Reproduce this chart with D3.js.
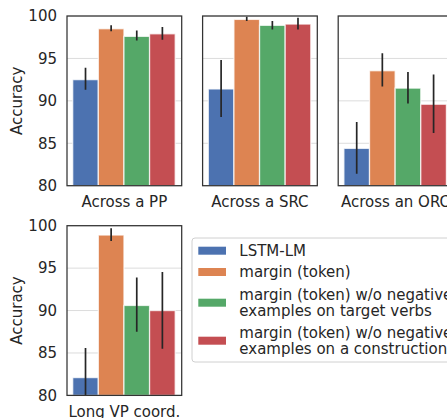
<!DOCTYPE html>
<html>
<head>
<meta charset="utf-8">
<script src="https://cdn.jsdelivr.net/npm/d3@7"></script>
<style>
  body { margin: 0; background: #fff; }
  text { font-family: "DejaVu Sans", sans-serif; fill: #262626; }
</style>
</head>
<body>
<svg id="chart" width="447" height="418"></svg>
<script>
// categories (one panel each) and series
var categories = ["Across a PP", "Across a SRC", "Across an ORC", "Long VP coord."];
var seriesNames = ["LSTM-LM", "margin (token)",
  "margin (token) w/o negative\nexamples on target verbs",
  "margin (token) w/o negative\nexamples on a construction"];
var colors = ["#4C72B0", "#DD8452", "#55A868", "#C44E52"];

// mean accuracy per category, and error bar bounds
var lstmLm      = [92.5, 91.4, 84.4, 82.1];
var lstmLmLo    = [91.3, 88.1, 81.4, 78.5];
var lstmLmHi    = [93.9, 94.8, 87.5, 85.6];
var margin      = [98.5, 99.6, 93.55, 98.9];
var marginLo    = [98.2, 99.4, 91.7, 98.2];
var marginHi    = [98.9, 99.9, 95.6, 99.7];
var noVerbs     = [97.6, 98.9, 91.5, 90.6];
var noVerbsLo   = [97.1, 98.4, 89.7, 87.5];
var noVerbsHi   = [98.3, 99.4, 93.4, 93.9];
var noConstr    = [97.9, 99.05, 89.6, 90.0];
var noConstrLo  = [97.2, 98.4, 86.2, 85.5];
var noConstrHi  = [98.7, 99.8, 93.1, 94.55];
var yTicks      = [80, 85, 90, 95, 100];

var means = [lstmLm, margin, noVerbs, noConstr],
    lows  = [lstmLmLo, marginLo, noVerbsLo, noConstrLo],
    highs = [lstmLmHi, marginHi, noVerbsHi, noConstrHi];

var svg = d3.select("#chart"),
    pw = 114.7, ph = 169.7,
    x0 = 67, y0 = 16, dx = 135.6, dy = 209.7;

var y = d3.scaleLinear().domain([80, 100]).range([ph, 0]);
var x = d3.scaleBand().domain(d3.range(seriesNames.length)).range([5.7, pw - 6.5]);

categories.forEach(function(cat, c) {
  var col = c % 3, row = Math.floor(c / 3);
  var g = svg.append("g").attr("transform", "translate(" + (x0 + col * dx) + "," + (y0 + row * dy) + ")");

  svg.append("clipPath").attr("id", "clip" + c)
    .append("rect").attr("width", pw).attr("height", ph);

  // grid
  g.selectAll("line.grid").data(yTicks).enter().append("line")
    .attr("class", "grid")
    .attr("x1", 0).attr("x2", pw)
    .attr("y1", function(d) { return y(d); }).attr("y2", function(d) { return y(d); })
    .attr("stroke", "#dcdcdc").attr("stroke-width", 1);

  var bars = g.append("g").attr("clip-path", "url(#clip" + c + ")");
  bars.selectAll("rect").data(d3.range(seriesNames.length)).enter().append("rect")
    .attr("x", function(s) { return x(s); })
    .attr("width", x.bandwidth())
    .attr("y", function(s) { return y(means[s][c]); })
    .attr("height", function(s) { return ph - y(means[s][c]); })
    .attr("fill", function(s) { return colors[s]; })
    .attr("stroke", "#fff").attr("stroke-opacity", 0.75).attr("stroke-width", 1.3);

  bars.selectAll("line.err").data(d3.range(seriesNames.length)).enter().append("line")
    .attr("class", "err")
    .attr("x1", function(s) { return x(s) + x.bandwidth() / 2; })
    .attr("x2", function(s) { return x(s) + x.bandwidth() / 2; })
    .attr("y1", function(s) { return y(lows[s][c]); })
    .attr("y2", function(s) { return y(highs[s][c]); })
    .attr("stroke", "#262626").attr("stroke-width", 1.7);

  // frame
  g.append("rect").attr("width", pw).attr("height", ph)
    .attr("fill", "none").attr("stroke", "#333").attr("stroke-width", 1.25);

  if (col === 0) {
    g.selectAll("text.ytick").data(yTicks).enter().append("text")
      .attr("class", "ytick")
      .attr("x", -10).attr("y", function(d) { return y(d); })
      .attr("dy", "0.35em").attr("text-anchor", "end")
      .style("font-size", "15px")
      .text(function(d) { return d; });
    g.append("text")
      .attr("transform", "translate(-50," + (ph / 2) + ") rotate(-90)")
      .attr("text-anchor", "middle").attr("dy", "0.35em")
      .style("font-size", "15px")
      .text("Accuracy");
  }
  g.append("text")
    .attr("x", pw / 2).attr("y", ph + 16).attr("dy", "0.35em")
    .attr("text-anchor", "middle")
    .style("font-size", "15px")
    .text(cat);
});

// legend
var lg = svg.append("g").attr("transform", "translate(192,238)");
lg.append("rect").attr("width", 280).attr("height", 124).attr("rx", 3)
  .attr("fill", "#fff").attr("stroke", "#d0d0d0").attr("stroke-width", 1);
var rowY = [12.7, 34, 64.7, 102.7];
seriesNames.forEach(function(name, s) {
  var lines = name.split("\n");
  lg.append("rect").attr("x", 6.3).attr("y", rowY[s] - 4).attr("width", 27.7).attr("height", 8)
    .attr("fill", colors[s]);
  lines.forEach(function(t, i) {
    lg.append("text")
      .attr("x", 47.3)
      .attr("y", rowY[s] + (i - (lines.length - 1) / 2) * 16)
      .attr("dy", "0.35em")
      .style("font-size", "15px")
      .text(t);
  });
});
</script>
</body>
</html>
